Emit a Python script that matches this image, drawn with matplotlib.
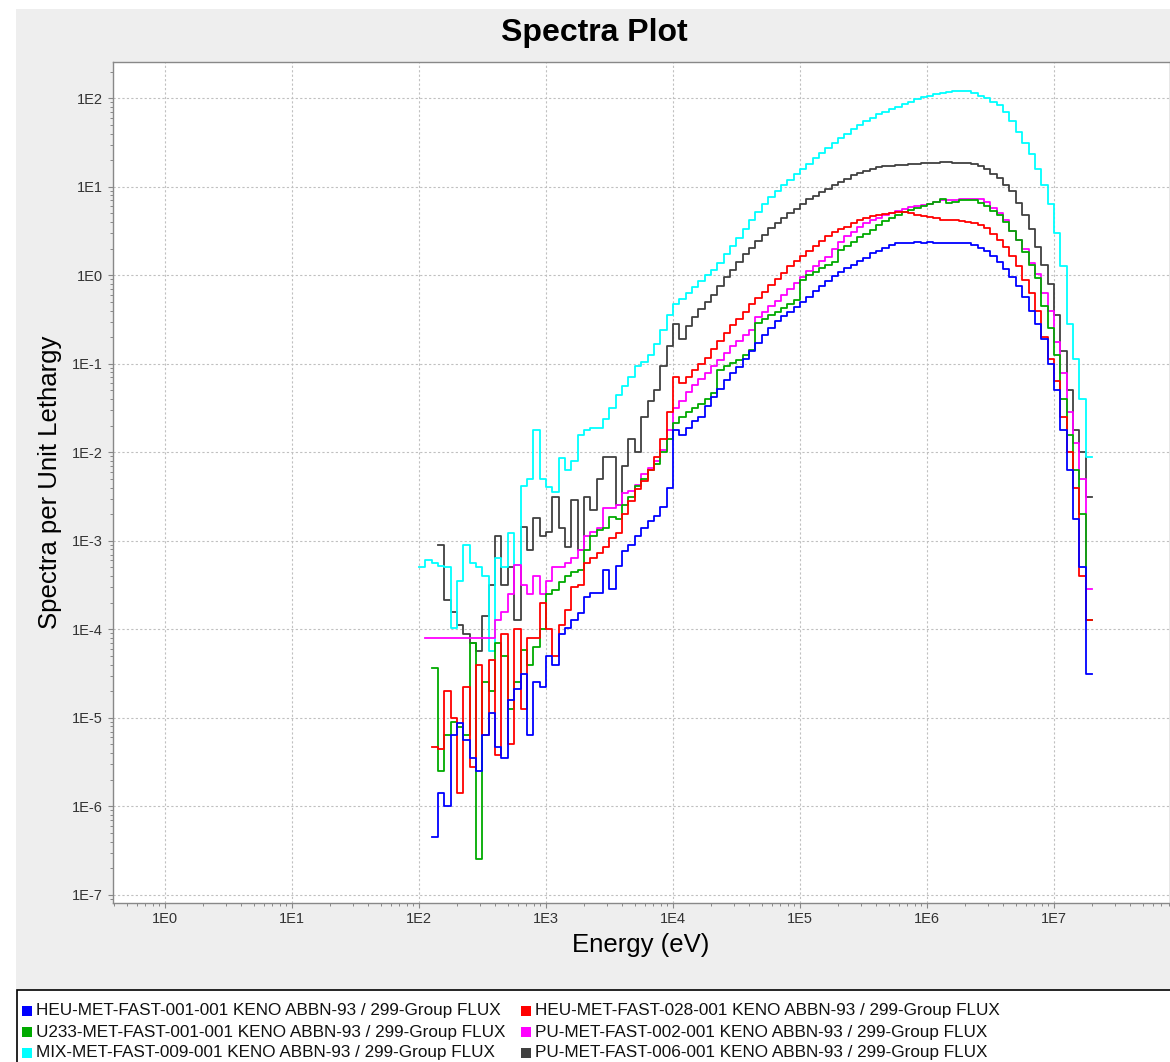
"""Spectra Plot: six 299-group KENO ABBN-93 flux spectra (per unit lethargy) on log-log axes.

Values were read off the screenshot: log10(spectrum per unit lethargy), one value per
1/20-decade energy bin; every series ends at the 2E7 eV top edge.
Output: out.png
"""
import numpy as np
import matplotlib
matplotlib.use("Agg")
import matplotlib.pyplot as plt
from matplotlib.patches import Rectangle
from matplotlib.ticker import FixedLocator, LogLocator, FuncFormatter, NullFormatter

W, H = 1170, 1062
EDGES = np.logspace(2.0, 7.3, 107)  # bin edges, 100 eV .. 2E7 eV
XTICKS = [1e0, 1e1, 1e2, 1e3, 1e4, 1e5, 1e6, 1e7]
YTICKS = [1e-7, 1e-6, 1e-5, 1e-4, 1e-3, 1e-2, 1e-1, 1e0, 1e1, 1e2]

labels = [
    "HEU-MET-FAST-001-001 KENO ABBN-93 / 299-Group FLUX",
    "HEU-MET-FAST-028-001 KENO ABBN-93 / 299-Group FLUX",
    "U233-MET-FAST-001-001 KENO ABBN-93 / 299-Group FLUX",
    "PU-MET-FAST-002-001 KENO ABBN-93 / 299-Group FLUX",
    "MIX-MET-FAST-009-001 KENO ABBN-93 / 299-Group FLUX",
    "PU-MET-FAST-006-001 KENO ABBN-93 / 299-Group FLUX",
]
colors = ["#0000ff", "#ff0000", "#00aa00", "#ff00ff", "#00ffff", "#404040"]

heu001 = [
    -6.35, -5.85, -6.0, -5.2, -5.06, -5.25, -5.45, -5.6, -5.2, -4.95,
    -5.33, -5.45, -4.8, -4.68, -4.5, -5.2, -4.6, -4.65, -4.3, -4.4,
    -4.05, -3.98, -3.9, -3.82, -3.63, -3.59, -3.59, -3.33, -3.55, -3.28,
    -3.12, -3.05, -2.95, -2.85, -2.78, -2.72, -2.62, -2.4, -1.75, -1.8,
    -1.72, -1.65, -1.6, -1.48, -1.38, -1.28, -1.18, -1.1, -1.04, -0.95,
    -0.85, -0.77, -0.68, -0.6, -0.52, -0.46, -0.41, -0.36, -0.3, -0.24,
    -0.18, -0.12, -0.06, -0.01, 0.04, 0.08, 0.12, 0.16, 0.2, 0.25,
    0.28, 0.31, 0.34, 0.36, 0.37, 0.37, 0.38, 0.37, 0.38, 0.37,
    0.37, 0.37, 0.36, 0.36, 0.36, 0.34, 0.31, 0.27, 0.22, 0.15,
    0.07, -0.02, -0.12, -0.25, -0.4, -0.55, -0.72, -1.0, -1.3, -1.75,
    -2.2, -2.75, -3.3, -4.5,
]
heu028 = [
    -5.33, -5.35, -4.7, -5.0, -5.85, -4.65, -5.56, -4.4, -5.2, -4.35,
    -5.42, -4.05, -5.3, -4.0, -4.9, -4.1, -4.1, -3.7, -4.0, -4.3,
    -3.95, -3.78, -3.52, -3.5, -3.25, -3.2, -3.14, -3.07, -2.97, -2.91,
    -2.7, -2.55, -2.42, -2.33, -2.2, -2.05, -1.85, -1.55, -1.15, -1.22,
    -1.15, -1.07, -1.0, -0.93, -0.83, -0.74, -0.65, -0.56, -0.49, -0.41,
    -0.33, -0.26, -0.19, -0.11, -0.04, 0.03, 0.1, 0.16, 0.22, 0.28,
    0.33, 0.39, 0.44, 0.49, 0.52, 0.55, 0.59, 0.62, 0.65, 0.67,
    0.68, 0.69, 0.70, 0.71, 0.71, 0.70, 0.68, 0.67, 0.66, 0.65,
    0.63, 0.62, 0.62, 0.61, 0.6, 0.59, 0.57, 0.53, 0.47, 0.4,
    0.32, 0.22, 0.1, -0.05, -0.2, -0.4, -0.7, -0.95, -1.2, -1.6,
    -2.0, -2.4, -3.4, -3.9,
]
u233_001 = [
    -4.44, -5.6, -5.2, -5.05, -5.1, -5.2, -4.15, -6.6, -4.6, -4.7,
    -4.16, -4.3, -4.9, -4.6, -4.23, -4.4, -4.2, -4.0, -3.6, -3.56,
    -3.47, -3.4, -3.35, -3.33, -3.1, -2.95, -2.88, -2.85, -2.73, -2.75,
    -2.59, -2.5, -2.38, -2.3, -2.2, -2.13, -2.0, -1.85, -1.67, -1.6,
    -1.55, -1.5, -1.45, -1.4, -1.33, -1.07, -1.03, -0.99, -0.96, -0.9,
    -0.84, -0.54, -0.49, -0.45, -0.41, -0.37, -0.32, -0.28, -0.05, 0.0,
    0.04, 0.08, 0.12, 0.15, 0.29, 0.33, 0.38, 0.43, 0.47, 0.51,
    0.57, 0.61, 0.65, 0.68, 0.71, 0.74, 0.76, 0.78, 0.80, 0.83,
    0.86, 0.82, 0.83, 0.85, 0.85, 0.85, 0.82, 0.78, 0.73, 0.68,
    0.6, 0.5, 0.4, 0.26, 0.12, -0.03, -0.35, -0.6, -0.9, -1.4,
    -1.8, -2.2, -2.7, -3.9,
]
pu002 = [
    -4.1, -4.1, -4.1, -4.1, -4.1, -4.1, -4.1, -4.1, -4.1, -4.1,
    -4.1, -3.9, -3.8, -3.6, -3.27, -3.5, -3.6, -3.4, -3.6, -3.45,
    -3.3, -3.3, -3.25, -3.2, -3.1, -2.95, -2.9, -2.85, -2.63, -2.63,
    -2.6, -2.46, -2.44, -2.37, -2.25, -2.18, -2.1, -1.97, -1.75, -1.5,
    -1.42, -1.32, -1.24, -1.17, -1.1, -1.02, -0.96, -0.88, -0.8, -0.74,
    -0.68, -0.62, -0.47, -0.41, -0.35, -0.29, -0.22, -0.15, -0.09, -0.02,
    0.05, 0.1, 0.16, 0.21, 0.3, 0.38, 0.44, 0.49, 0.55, 0.59,
    0.63, 0.65, 0.68, 0.70, 0.73, 0.75, 0.77, 0.78, 0.79, 0.81,
    0.83, 0.85, 0.85, 0.85, 0.86, 0.86, 0.86, 0.86, 0.83, 0.76,
    0.7, 0.62, 0.5, 0.4, 0.3, 0.14, 0.02, -0.2, -0.4, -0.75,
    -1.1, -1.55, -1.9, -2.3, -3.55,
]
mix009 = [
    -3.3, -3.22, -3.25, -3.28, -3.3, -3.98, -3.45, -3.05, -3.25, -3.3,
    -3.4, -4.25, -3.2, -3.3, -2.91, -3.27, -2.38, -2.3, -1.75, -2.3,
    -2.39, -2.45, -2.07, -2.2, -2.1, -1.8, -1.75, -1.72, -1.72, -1.62,
    -1.5, -1.35, -1.25, -1.15, -1.03, -0.98, -0.9, -0.78, -0.62, -0.45,
    -0.33, -0.27, -0.2, -0.13, -0.07, 0.0, 0.06, 0.14, 0.24, 0.33,
    0.42, 0.52, 0.62, 0.72, 0.80, 0.88, 0.95, 1.02, 1.08, 1.14,
    1.2, 1.26, 1.32, 1.38, 1.44, 1.49, 1.55, 1.60, 1.65, 1.70,
    1.74, 1.78, 1.82, 1.85, 1.88, 1.90, 1.93, 1.96, 1.99, 2.01,
    2.03, 2.05, 2.06, 2.07, 2.08, 2.08, 2.08, 2.06, 2.03, 2.0,
    1.96, 1.92, 1.84, 1.74, 1.62, 1.50, 1.37, 1.20, 1.02, 0.80,
    0.48, 0.1, -0.55, -0.95, -1.4, -2.05,
]
pu006 = [
    -3.05, -3.67, -3.8, -3.95, -4.05, -4.15, -4.25, -3.85, -3.5, -2.95,
    -3.5, -3.3, -3.9, -2.84, -3.1, -2.74, -2.95, -2.9, -2.5, -2.85,
    -3.07, -2.54, -3.1, -2.5, -2.65, -2.3, -2.05, -2.05, -2.6, -2.15,
    -1.85, -2.0, -1.6, -1.42, -1.3, -1.03, -0.8, -0.55, -0.72, -0.57,
    -0.47, -0.38, -0.3, -0.22, -0.12, -0.02, 0.06, 0.15, 0.24, 0.31,
    0.39, 0.46, 0.53, 0.59, 0.65, 0.7, 0.75, 0.81, 0.86, 0.9,
    0.94, 0.98, 1.02, 1.05, 1.09, 1.13, 1.16, 1.18, 1.2, 1.22,
    1.23, 1.24, 1.25, 1.25, 1.26, 1.26, 1.27, 1.27, 1.27, 1.28,
    1.28, 1.27, 1.27, 1.27, 1.26, 1.23, 1.2, 1.15, 1.10, 1.02,
    0.95, 0.82, 0.68, 0.52, 0.32, 0.12, -0.1, -0.45, -0.85, -1.3,
    -1.75, -2.0, -2.5,
]
series = [heu001, heu028, u233_001, pu002, mix009, pu006]

plt.rcParams["font.family"] = ["Liberation Sans", "DejaVu Sans"]
fig = plt.figure(figsize=(W / 100, H / 100), dpi=100)
fig.patch.set_facecolor("white")

# grey chart panel + white legend box, like the Swing/JFreeChart frame
fig.patches.append(Rectangle((16 / W, 1 - 990 / H), 1, (990 - 9) / H, transform=fig.transFigure,
                             fc="#eeeeee", ec="none", zorder=-10))
fig.patches.append(Rectangle((17 / W, -0.01), 1, 1 - 990 / H + 0.01, transform=fig.transFigure,
                             fc="white", ec="black", lw=1.2, zorder=-9))

ax = fig.add_axes([113 / W, 1 - 902.5 / H, (1170 - 113) / W, (902.5 - 62) / H])
ax.set_facecolor("white")

# draw last series first so HEU-001 ends up on top
for vals, col in list(zip(series, colors))[::-1]:
    v = 10.0 ** np.asarray(vals)
    e = EDGES[-(len(v) + 1):]
    ax.step(e, np.append(v, v[-1]), where="post", color=col, lw=1.3)

ax.set_xscale("log")
ax.set_yscale("log")
ax.set_xlim(0.39, 8.2e7)
ax.set_ylim(10 ** -7.087, 10 ** 2.41)

fmt = FuncFormatter(lambda v, p: f"1E{int(round(np.log10(v)))}")
for axis, ticks in ((ax.xaxis, XTICKS), (ax.yaxis, YTICKS)):
    axis.set_major_locator(FixedLocator(ticks))
    axis.set_minor_locator(LogLocator(base=10, subs=np.arange(2, 10), numticks=30))
    axis.set_major_formatter(fmt)
    axis.set_minor_formatter(NullFormatter())
ax.tick_params(which="both", direction="out", color="#888888", labelsize=10.5, labelcolor="#333333")
ax.tick_params(which="major", length=3.5, width=0.8)
ax.tick_params(which="minor", length=2, width=0.7)
ax.tick_params(axis="x", pad=3)
ax.tick_params(axis="y", pad=4)
ax.grid(True, which="major", color="#c0c0c0", ls=(0, (2, 2)), lw=0.8)
ax.set_axisbelow(True)
for s in ax.spines.values():
    s.set_color("#888888")
    s.set_linewidth(1.0)

fig.text(594 / W, 1 - 33 / H, "Spectra Plot", ha="center", va="center", fontsize=23, fontweight="bold")
fig.text(641 / W, 1 - 945 / H, "Energy (eV)", ha="center", va="center", fontsize=18.5)
fig.text(50 / W, 1 - 482 / H, "Spectra per Unit Lethargy", ha="center", va="center",
         rotation=90, fontsize=18.5)

# legend, row-major: two entries per row
for i, (lab, col) in enumerate(zip(labels, colors)):
    row, c = divmod(i, 2)
    x0 = 22 if c == 0 else 521
    yc = 1011 + row * 21
    fig.patches.append(Rectangle((x0 / W, 1 - (yc + 5) / H), 10 / W, 10 / H, transform=fig.transFigure,
                                 fc=col, ec="none"))
    fig.text((x0 + 14) / W, 1 - yc / H, lab, ha="left", va="center", fontsize=12.3, color="#111111")

fig.savefig("out.png", dpi=100)
